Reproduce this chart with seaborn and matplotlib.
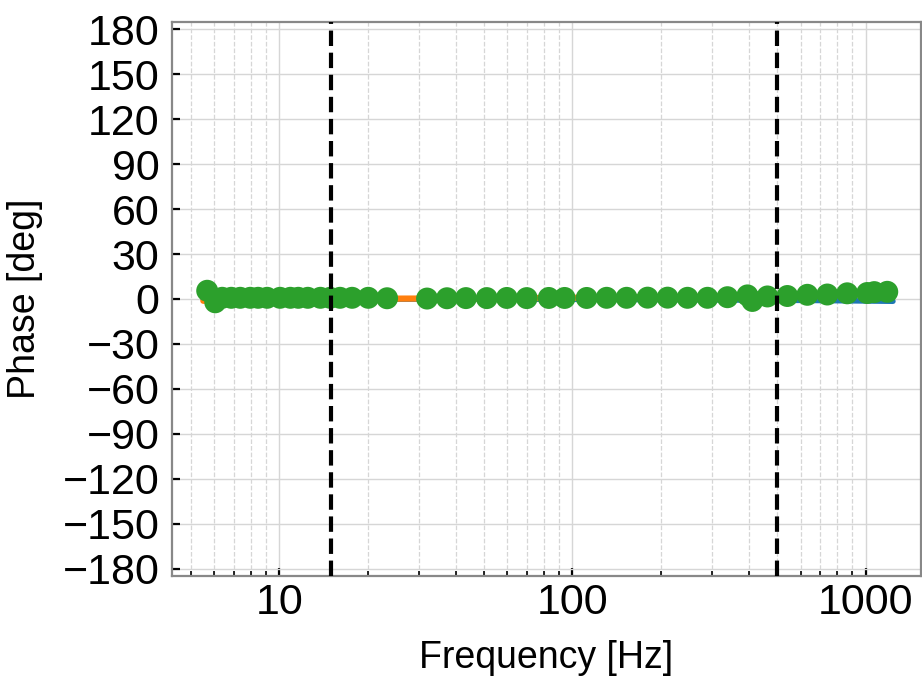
import matplotlib
matplotlib.use("Agg")
import matplotlib.pyplot as plt
import seaborn as sns
import pandas as pd
from matplotlib.ticker import LogLocator, FixedLocator, NullFormatter

# Model and fitted phase curves
curve_freq = [5.5, 7.0, 10.0, 20.0, 50.0, 100.0, 200.0, 300.0, 500.0, 700.0, 1000.0, 1240.0]
model_phase = [0.0, 0.0, 0.0, -0.1, -0.1, -0.2, -0.4, -0.6, -0.8, -1.0, -1.3, -1.5]
fit_phase = [-1.2, -0.5, 0.0, 0.2, 0.4, 0.8, 1.2, 1.5, 2.0, 2.5, 3.0, 3.5]

# Measured phase points
meas_freq = [5.67, 6.04, 6.38, 6.85, 7.35, 7.95, 8.46, 9.08, 10.05, 10.9, 11.6, 12.5,
             13.8, 14.9, 16.1, 17.7, 20.1, 23.3, 31.9, 37.3, 43.3, 51.0, 59.7, 69.8,
             83.0, 94.0, 111.8, 130.8, 153.0, 180.4, 211.1, 246.9, 288.9, 337.9,
             395.4, 411.0, 462.6, 541.0, 633.0, 740.5, 866.0, 1013.0, 1071.0, 1186.0]
meas_phase = [5.5, -2.2, 0.8, 0.8, 0.8, 0.8, 0.8, 0.8, 0.8, 0.8, 0.8, 0.8,
              0.8, 0.8, 0.8, 0.8, 0.8, 0.5, 0.3, 0.5, 0.6, 0.6, 0.7, 0.6,
              0.7, 0.7, 0.7, 0.8, 0.8, 0.9, 0.9, 0.8, 0.8, 1.2,
              2.4, -1.3, 1.7, 2.0, 2.8, 3.0, 3.8, 4.0, 4.6, 4.8]

# Band edges marked with vertical lines
band_edges = [15.0, 500.0]
y_ticks = [-180, -150, -120, -90, -60, -30, 0, 30, 60, 90, 120, 150, 180]
x_ticks = [10, 100, 1000]
x_tick_labels = ["10", "100", "1000"]

sns.set_theme(style="white")
plt.rcParams["font.family"] = ["Liberation Sans", "DejaVu Sans"]
plt.rcParams.update({
    "text.color": "black",
    "axes.labelcolor": "black",
    "xtick.color": "black",
    "ytick.color": "black",
    "xtick.labelcolor": "black",
    "ytick.labelcolor": "black",
})

fig = plt.figure(figsize=(9.22, 6.79), dpi=100)
ax = fig.add_axes([172 / 922, 1 - 576 / 679, 748.5 / 922, 554 / 679])
ax.set_xscale("log")

curves = pd.DataFrame({"freq": curve_freq, "model": model_phase, "fit": fit_phase})
meas = pd.DataFrame({"freq": meas_freq, "phase": meas_phase})

sns.lineplot(data=curves, x="freq", y="model", ax=ax, color="#1f77b4", lw=4.0, zorder=3)
sns.lineplot(data=curves, x="freq", y="fit", ax=ax, color="#ff7f0e", lw=4.5, zorder=4)
sns.scatterplot(data=meas, x="freq", y="phase", ax=ax, color="#2ca02c", s=250,
                linewidth=0, edgecolor="none", zorder=5)

for f in band_edges:
    ax.axvline(f, color="black", ls="--", lw=3.0, zorder=6)

ax.set_xlim(4.3, 1540)
ax.set_ylim(-185, 185)
ax.set_yticks(y_ticks)
ax.xaxis.set_major_locator(FixedLocator(x_ticks))
ax.set_xticklabels(x_tick_labels)
ax.xaxis.set_minor_locator(LogLocator(base=10, subs=[2, 3, 4, 5, 6, 7, 8, 9], numticks=20))
ax.xaxis.set_minor_formatter(NullFormatter())

ax.grid(True, which="major", color="#d6d6d6", lw=1.0, ls="-", zorder=0)
ax.grid(True, which="minor", axis="x", color="#d6d6d6", lw=0.9, ls="--", zorder=0)
ax.set_axisbelow(True)

for s in ax.spines.values():
    s.set_color("#888888")
    s.set_linewidth(1.6)

ax.tick_params(axis="both", which="major", direction="in", length=6, width=1.6,
               color="black", labelcolor="black", labelsize=31,
               left=True, bottom=True, top=False, right=False)
ax.tick_params(axis="x", which="minor", direction="in", length=3.5, width=1.2,
               color="black", bottom=True, top=False)
ax.tick_params(axis="y", which="major", pad=9)
ax.tick_params(axis="x", which="major", pad=5)

ax.set_xlabel("Frequency [Hz]", fontsize=27, labelpad=12, color="black")
ax.set_ylabel("Phase [deg]", fontsize=27, labelpad=14, color="black")

fig.savefig("out.png", dpi=100)
